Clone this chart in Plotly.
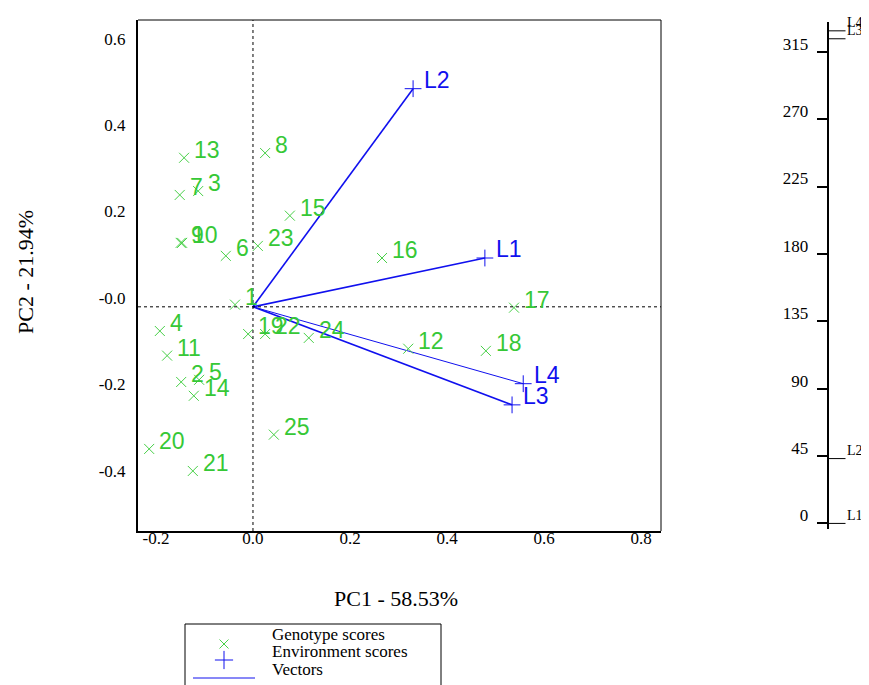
import plotly.graph_objects as go

# ---------------- data ----------------
geno_names = [str(i) for i in range(1, 26)]
geno_x = [-0.037, -0.148, -0.113, -0.192, -0.111, -0.056, -0.151, 0.025, -0.149, -0.146,
          -0.177, 0.320, -0.142, -0.122, 0.076, 0.266, 0.538, 0.480, -0.010, -0.214,
          -0.124, 0.025, 0.010, 0.115, 0.043]
geno_y = [0.005, -0.174, 0.268, -0.056, -0.169, 0.118, 0.259, 0.356, 0.148, 0.148,
          -0.113, -0.097, 0.345, -0.206, 0.211, 0.113, -0.002, -0.102, -0.063, -0.329,
          -0.380, -0.063, 0.141, -0.072, -0.296]

env_names = ["L1", "L2", "L3", "L4"]
env_x = [0.478, 0.330, 0.534, 0.557]
env_y = [0.113, 0.505, -0.227, -0.178]
env_angles = [0, 43.3, 323.7, 329.0]

x_tickvals = [-0.2, 0.0, 0.2, 0.4, 0.6, 0.8]
x_ticktext = ["-0.2", "0.0", "0.2", "0.4", "0.6", "0.8"]
y_tickvals = [-0.4, -0.2, 0.0, 0.2, 0.4, 0.6]
y_ticktext = ["-0.4", "-0.2", "-0.0", "0.2", "0.4", "0.6"]
angle_ticks = [0, 45, 90, 135, 180, 225, 270, 315]

x_title = "PC1 - 58.53%"
y_title = "PC2 - 21.94%"
legend_labels = ["Genotype scores", "Environment scores", "Vectors"]

# ---------------- style ----------------
OFF = 8  # page body margin
W, H = 869 - OFF, 685 - OFF


def fx(px):
    return (px - OFF) / W


def fy(py):
    return 1 - (py - OFF) / H


GREEN_TXT = "#36c836"
GREEN_MK = "#48d048"
BLUE = "#1010ee"
SERIF = "Liberation Serif"
SANS = "Liberation Sans"

fig = go.Figure()

# vectors
for name, ex, ey in zip(env_names, env_x, env_y):
    fig.add_trace(go.Scatter(x=[0, ex], y=[0, ey], mode="lines",
                             line=dict(color=BLUE, width=1 if name == "L4" else 1.6),
                             showlegend=False, hoverinfo="skip", xaxis="x", yaxis="y"))

# genotype markers
fig.add_trace(go.Scatter(x=geno_x, y=geno_y, mode="markers",
                         marker=dict(symbol="x-thin-open", size=10, color=GREEN_MK,
                                     line=dict(color=GREEN_MK, width=1)),
                         showlegend=False, xaxis="x", yaxis="y"))
# environment markers
fig.add_trace(go.Scatter(x=env_x, y=env_y, mode="markers",
                         marker=dict(symbol="cross-thin-open", size=12, color=BLUE,
                                     line=dict(color=BLUE, width=1)),
                         showlegend=False, xaxis="x", yaxis="y"))

annotations = []
for n, gx, gy in zip(geno_names, geno_x, geno_y):
    annotations.append(dict(x=gx, y=gy, xref="x", yref="y", text=n, showarrow=False,
                            xanchor="left", yanchor="middle", xshift=8, yshift=8,
                            font=dict(family=SANS, size=23, color=GREEN_TXT)))
for n, ex, ey in zip(env_names, env_x, env_y):
    annotations.append(dict(x=ex, y=ey, xref="x", yref="y", text=n, showarrow=False,
                            xanchor="left", yanchor="middle", xshift=9, yshift=9,
                            font=dict(family=SANS, size=23, color=BLUE)))

# right angle axis lines + labels (kept inside the visible page width)
for n, a in zip(env_names, env_angles):
    fig.add_trace(go.Scatter(x=[0, 17], y=[a, a], mode="lines",
                             line=dict(color="black", width=1),
                             showlegend=False, hoverinfo="skip", xaxis="x2", yaxis="y2"))
    annotations.append(dict(x=17, y=a, xref="x2", yref="y2", text=n, showarrow=False,
                            xanchor="left", yanchor="middle", xshift=-1, yshift=8,
                            font=dict(family=SERIF, size=14, color="black")))

# legend (manual, in its own small axes; units = pixels above page bottom)
fig.add_trace(go.Scatter(x=[39], y=[41], mode="markers",
                         marker=dict(symbol="x-thin-open", size=9, color=GREEN_MK,
                                     line=dict(color=GREEN_MK, width=1)),
                         showlegend=False, xaxis="x3", yaxis="y3"))
fig.add_trace(go.Scatter(x=[39], y=[25], mode="markers",
                         marker=dict(symbol="cross-thin-open", size=13, color=BLUE,
                                     line=dict(color=BLUE, width=1)),
                         showlegend=False, xaxis="x3", yaxis="y3"))
fig.add_trace(go.Scatter(x=[8, 70], y=[7, 7], mode="lines",
                         line=dict(color=BLUE, width=1),
                         showlegend=False, xaxis="x3", yaxis="y3", cliponaxis=False))
for lbl, ly in zip(legend_labels, [51, 34, 16]):
    annotations.append(dict(x=85, y=ly, xref="x3", yref="y3", text=lbl, showarrow=False,
                            xanchor="left", yanchor="middle",
                            font=dict(family=SERIF, size=17, color="black")))

# axis titles
annotations.append(dict(x=fx(396), y=fy(598), xref="paper", yref="paper", text=x_title,
                        showarrow=False, xanchor="center", yanchor="middle",
                        font=dict(family=SERIF, size=22, color="black")))
annotations.append(dict(x=fx(25), y=fy(272), xref="paper", yref="paper", text=y_title,
                        showarrow=False, xanchor="center", yanchor="middle", textangle=-90,
                        font=dict(family=SERIF, size=22, color="black")))

shapes = [
    dict(type="line", xref="x", yref="y domain", x0=0, x1=0, y0=0, y1=1,
         line=dict(color="black", width=1, dash="dot")),
    dict(type="line", xref="x domain", yref="y", x0=0, x1=1, y0=0, y1=0,
         line=dict(color="black", width=1, dash="dot")),
    dict(type="line", xref="x domain", yref="y domain", x0=0, x1=1, y0=1, y1=1,
         line=dict(color="black", width=1)),
    dict(type="line", xref="x domain", yref="y domain", x0=1, x1=1, y0=0, y1=1,
         line=dict(color="black", width=1)),
    dict(type="rect", xref="paper", yref="paper", x0=fx(185), x1=fx(441),
         y0=-0.05, y1=fy(624), line=dict(color="black", width=1)),
]

tickfont = dict(family=SERIF, size=17, color="black")

fig.update_layout(
    width=W, height=H,
    margin=dict(l=0, r=0, t=0, b=0),
    paper_bgcolor="white", plot_bgcolor="white",
    showlegend=False,
    annotations=annotations,
    shapes=shapes,
    xaxis=dict(domain=[fx(138), fx(661)], range=[-0.237, 0.841],
               tickvals=x_tickvals, ticktext=x_ticktext, tickfont=tickfont,
               showgrid=False, zeroline=False, showline=True, linecolor="black",
               linewidth=2, ticks="", ticklabelstandoff=-9, anchor="y"),
    yaxis=dict(domain=[fy(531), fy(20)], range=[-0.519, 0.664],
               tickvals=y_tickvals, ticktext=y_ticktext, tickfont=tickfont,
               showgrid=False, zeroline=False, showline=True, linecolor="black",
               linewidth=2, ticks="", ticklabelstandoff=7, ticklabelshift=-9, anchor="x"),
    xaxis2=dict(domain=[fx(828.5), 1.0], range=[0, 869 - 828.5], visible=False, anchor="y2"),
    yaxis2=dict(domain=[fy(528.5), fy(22)], range=[-3.4, 334.9], anchor="x2",
                tickvals=angle_ticks, ticktext=[str(a) for a in angle_ticks],
                tickfont=dict(family=SERIF, size=17, color="black"),
                showgrid=False, zeroline=False, showline=True, linecolor="black",
                linewidth=1.5, ticks="outside", ticklen=10, tickwidth=1.5,
                tickcolor="black", ticklabelshift=-8, ticklabelstandoff=5),
    xaxis3=dict(domain=[fx(185), fx(441)], range=[0, 256], visible=False, anchor="y3"),
    yaxis3=dict(domain=[0, fy(624)], range=[685 - (OFF + H), 685 - 624], visible=False,
                anchor="x3"),
)

fig.write_html("out.html")
